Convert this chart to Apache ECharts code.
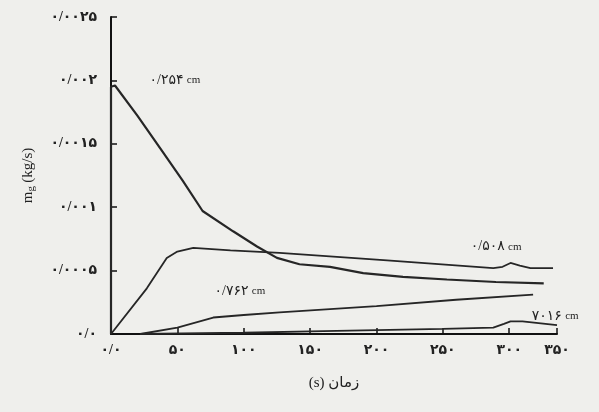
<!DOCTYPE html>
<html>
<head>
<meta charset="utf-8">
<script src="https://cdn.jsdelivr.net/npm/echarts@6/dist/echarts.min.js"></script>
<style>
html,body{margin:0;padding:0;background:#efefec;}
#c{width:599px;height:412px;}
</style>
</head>
<body>
<div id="c"></div>
<script>
// ---- data (time in s, mass flow in kg/s) ----
const xTickLabels = ['۰/۰','۵۰','۱۰۰','۱۵۰','۲۰۰','۲۵۰','۳۰۰','۳۵۰'];
const yTickLabels = ['۰/۰','۰/۰۰۰۵','۰/۰۰۱','۰/۰۰۱۵','۰/۰۰۲','۰/۰۰۲۵'];

const s254 = [[0,0],[0,0.00195],[3,0.00196],[20,0.00172],[40,0.00142],[54,0.00121],[69,0.00097],[92,0.00081],[110,0.00069],[125,0.0006],[142,0.00055],[165,0.00053],[190,0.00048],[220,0.00045],[253,0.00043],[290,0.00041],[326,0.0004]];
const s508 = [[0,0],[27,0.00036],[42,0.0006],[50,0.00065],[62,0.00068],[90,0.00066],[127,0.00064],[208,0.00058],[288,0.00052],[295,0.00053],[301,0.00056],[308,0.00054],[316,0.00052],[333,0.00052]];
const s762 = [[22,0],[50,0.00005],[77,0.00013],[100,0.00015],[127,0.00017],[200,0.00022],[260,0.00027],[318,0.00031]];
const s1016 = [[22,0],[100,0.00001],[150,0.00002],[200,0.00003],[250,0.00004],[288,0.00005],[296,0.00008],[301,0.0001],[310,0.0001],[336,0.00007]];

const seriesNames = ['۰/۲۵۴','۰/۵۰۸','۰/۷۶۲','۷۰۱۶'];
const labelAt = [[29,0.002],[271,0.000688],[78,0.00034],[317,0.000138]];

const FONT = "'Liberation Serif','DejaVu Sans',serif";
const INK = '#222';

const chart = echarts.init(document.getElementById('c'));
const lineColor = '#262626';

function mk(name, data, idx, width){
  return {
    type:'line', name:name, data:data, showSymbol:false, symbol:'none',
    lineStyle:{color:lineColor, width:width}, animation:false, silent:true,
    markPoint:{
      symbol:'circle', symbolSize:0, animation:false,
      data:[{coord:labelAt[idx]}],
      label:{
        show:true, position:'right', distance:0,
        formatter: '{n|' + name + '} {u|cm}',
        rich:{
          n:{fontFamily:FONT, fontSize:14, color:INK},
          u:{fontFamily:FONT, fontSize:11, color:INK}
        }
      }
    }
  };
}

chart.setOption({
  backgroundColor:'#efefec',
  animation:false,
  grid:{left:111, right:42, top:17, bottom:78},
  xAxis:{
    type:'value', min:0, max:336, interval:50,
    axisLine:{show:true, onZero:false, lineStyle:{color:'#111', width:2}},
    axisTick:{show:true, inside:true, length:6, lineStyle:{color:'#111', width:1.5}},
    splitLine:{show:false},
    axisLabel:{
      margin:9, color:INK, fontFamily:FONT, fontSize:14, fontWeight:'bold',
      formatter:function(v,i){ return xTickLabels[i] !== undefined ? xTickLabels[i] : ''; }
    },
    name:'(s) زمان', nameLocation:'middle', nameGap:42,
    nameTextStyle:{fontFamily:FONT, fontSize:15, color:INK}
  },
  yAxis:{
    type:'value', min:0, max:0.0025, interval:0.0005,
    axisLine:{show:true, lineStyle:{color:'#111', width:2}},
    axisTick:{show:true, inside:true, length:6, lineStyle:{color:'#111', width:1.5}},
    splitLine:{show:false},
    axisLabel:{
      margin:14, color:INK, fontFamily:FONT, fontSize:14, fontWeight:'bold',
      formatter:function(v,i){ return yTickLabels[i] !== undefined ? yTickLabels[i] : ''; }
    },
    name:'{m|m}{s|g} {m|(kg/s)}', nameLocation:'middle', nameGap:74, nameRotate:90,
    nameTextStyle:{
      rich:{
        m:{fontFamily:FONT, fontSize:15, color:INK, lineHeight:18},
        s:{fontFamily:FONT, fontSize:11, color:INK, lineHeight:18, verticalAlign:'bottom', padding:[8,0,0,0]}
      }
    }
  },
  series:[
    mk(seriesNames[0], s254, 0, 2.2),
    mk(seriesNames[1], s508, 1, 1.8),
    mk(seriesNames[2], s762, 2, 1.8),
    mk(seriesNames[3], s1016, 3, 1.8)
  ]
});
</script>
</body>
</html>
